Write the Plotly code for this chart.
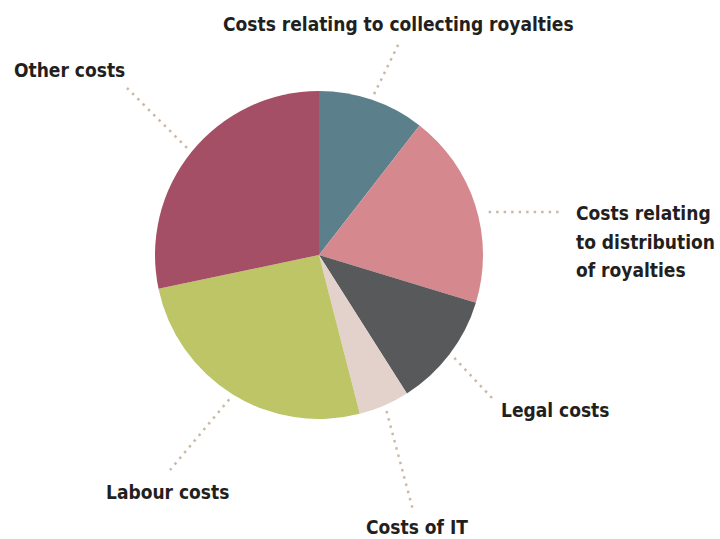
import math
import plotly.graph_objects as go

# ---- data ----
labels = [
    "Costs relating to collecting royalties",
    "Costs relating to distribution of royalties",
    "Legal costs",
    "Costs of IT",
    "Labour costs",
    "Other costs",
]
values = [10.5, 19.2, 11.3, 5.0, 25.7, 28.3]
display_lines = [
    ["Costs relating to collecting royalties"],
    ["Costs relating", "to distribution", "of royalties"],
    ["Legal costs"],
    ["Costs of IT"],
    ["Labour costs"],
    ["Other costs"],
]
colors = ["#5b808b", "#d5898f", "#58595b", "#e3d1cc", "#bdc566", "#a44f66"]

# ---- layout constants (pixels) ----
W, H = 720, 539
CX, CY, R = 319, 255, 164
FONT = "DejaVu Sans Condensed, Liberation Sans Narrow, sans-serif"
FONT_SIZE = 19
LINE_SPACING = 28.5
TEXT_COLOR = "#231f20"
LEADER_COLOR = "#c9b9a5"

# label anchor (first line): (x, y, xanchor) in px
label_pos = [
    (398, 24, "center"),
    (574, 213, "left"),
    (499, 410, "left"),
    (364, 527, "left"),
    (104, 492, "left"),
    (12, 70, "left"),
]
# leader end (x, y) in px; horizontal flag; gap from pie edge
leader_end = [(399, 43), (563, 212), (492, 398), (413, 510), (170, 470), (127, 88)]
leader_horizontal = [False, True, False, False, False, False]
leader_gap = [6, 14, 6, 6, 6, 6]


def px(x, y):
    return x / W, 1 - y / H


fig = go.Figure()
fig.add_trace(go.Pie(
    labels=labels,
    values=values,
    sort=False,
    direction="clockwise",
    rotation=0,
    marker=dict(colors=colors, line=dict(width=0)),
    textinfo="none",
    hoverinfo="label+percent",
    showlegend=False,
    domain=dict(x=[(CX - R) / W, (CX + R) / W],
                y=[(H - CY - R) / H, (H - CY + R) / H]),
))

total = sum(values)
cum = 0.0
shapes = []
annotations = []
for i, v in enumerate(values):
    mid = (cum + v / 2) / total * 2 * math.pi
    cum += v
    rs = R + leader_gap[i]
    sx = CX + rs * math.sin(mid)
    sy = CY - rs * math.cos(mid)
    ex, ey = leader_end[i]
    if leader_horizontal[i]:
        sy = ey
    x0, y0 = px(sx, sy)
    x1, y1 = px(ex, ey)
    shapes.append(dict(type="line", xref="paper", yref="paper",
                       x0=x0, y0=y0, x1=x1, y1=y1,
                       line=dict(color=LEADER_COLOR, width=2.5, dash="2.5px,5px")))
    lx, ly, xa = label_pos[i]
    for j, line in enumerate(display_lines[i]):
        ax, ay = px(lx, ly + j * LINE_SPACING)
        annotations.append(dict(x=ax, y=ay, xref="paper", yref="paper",
                                text="<b>" + line + "</b>",
                                showarrow=False, xanchor=xa, yanchor="middle",
                                font=dict(family=FONT, size=FONT_SIZE, color=TEXT_COLOR)))

fig.update_layout(
    width=W, height=H,
    margin=dict(l=0, r=0, t=0, b=0),
    paper_bgcolor="white",
    plot_bgcolor="white",
    shapes=shapes,
    annotations=annotations,
)

fig.write_html("out.html")
